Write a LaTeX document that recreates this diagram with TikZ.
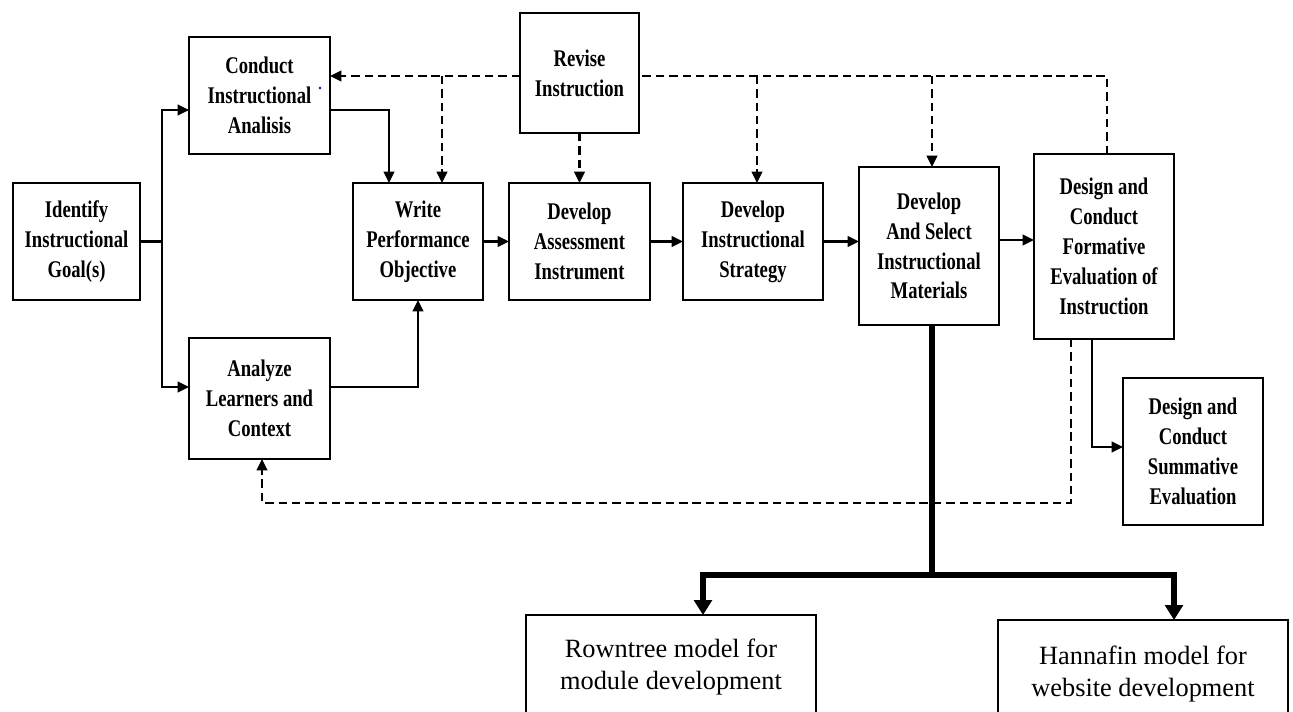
\documentclass[tikz,border=0pt]{standalone}
\usepackage{fontspec}
\setmainfont{Liberation Serif}
\newfontfamily\boxfont[FakeStretch=0.78]{Liberation Serif}
\usetikzlibrary{arrows.meta}
\tikzset{
 box/.style={draw, line width=1.6pt, fill=white, inner sep=0pt, outer sep=0pt, align=center,
   font=\boxfont\bfseries\fontsize{13.6}{17}\selectfont},
 modelbox/.style={draw, line width=1.1pt, fill=white, inner sep=0pt, outer sep=0pt, align=center,
   font=\fontsize{15}{18.1}\selectfont},
 flow/.style={line width=1.5pt, -{Triangle[length=6.5pt,width=6pt]}},
 plainline/.style={line width=1.5pt},
 fb/.style={line width=1.5pt, dash pattern=on 4.8pt off 2.8pt},
 fbarr/.style={fb, -{Triangle[length=6.5pt,width=6pt]}},
 heavy/.style={line width=3.4pt},
 heavyarr/.style={heavy, -{Triangle[length=8.5pt,width=10pt]}},
}
\begin{document}
\begin{tikzpicture}[x=0.02cm,y=-0.02cm]
\useasboundingbox (0,0) rectangle (1293,711);
\clip (0,0) rectangle (1293,711);
\fill[white] (0,0) rectangle (1293,711);

% boxes
\node[box, minimum width=2.54cm, minimum height=2.34cm] (Identify) at (76.5,241.5) {Identify\\Instructional\\Goal(s)};
\node[box, minimum width=2.82cm, minimum height=2.34cm] (Conduct) at (259.5,95.5) {Conduct\\Instructional\\Analisis};
\node[box, minimum width=2.82cm, minimum height=2.42cm] (Analyze) at (259.5,398.5) {Analyze\\Learners and\\Context};
\node[box, minimum width=2.6cm, minimum height=2.34cm] (Write) at (418,241.5) {Write\\Performance\\Objective};
\node[box, minimum width=2.38cm, minimum height=2.4cm] (Revise) at (579.5,73) {Revise\\Instruction};
\node[box, minimum width=2.82cm, minimum height=2.34cm] (Assessment) at (579.5,241.5) {Develop\\Assessment\\Instrument};
\node[box, minimum width=2.8cm, minimum height=2.34cm] (Strategy) at (753,241.5) {Develop\\Instructional\\Strategy};
\node[box, minimum width=2.8cm, minimum height=3.16cm] (Materials) at (929,246) {Develop\\And Select\\Instructional\\Materials};
\node[box, minimum width=2.8cm, minimum height=3.7cm] (Formative) at (1104,246.5) {Design and\\Conduct\\Formative\\Evaluation of\\Instruction};
\node[box, minimum width=2.8cm, minimum height=2.94cm] (Summative) at (1193,451.5) {Design and\\Conduct\\Summative\\Evaluation};
\node[modelbox, minimum width=5.8cm, minimum height=2.08cm] (Rowntree) at (671,667) {Rowntree model for\\module development};
\node[modelbox, minimum width=5.8cm, minimum height=2.16cm] (Hannafin) at (1143,674) {Hannafin model for\\website development};

\fill[blue!70!black] (320,88) circle (1.4);

% solid flow
\coordinate (split1) at (162,241.5);
\draw[plainline] (Identify.east) -- (split1);
\draw[flow] (split1) |- (Conduct.west |- 0,110);
\draw[flow] (split1) |- (Analyze.west |- 0,387);
\draw[flow] (Conduct.east |- 0,110) -| (Write.north -| 389,0);
\draw[flow] (Analyze.east |- 0,387) -| (Write.south);
\draw[flow] (Write.east) -- (Assessment.west);
\draw[flow] (Assessment.east) -- (Strategy.west);
\draw[flow] (Strategy.east) -- (Strategy.east -| Materials.west);
\draw[flow] (Materials.east |- 0,240) -- (Formative.west |- 0,240);
\draw[flow] (Formative.south -| 1092,0) |- (Summative.west |- 0,447);

% feedback (dashed)
\coordinate (topR) at (1107,76);
\coordinate (d1) at (442,76);
\coordinate (d2) at (757,76);
\coordinate (d3) at (932,76);
\coordinate (botR) at (1071,503);
\draw[fbarr] (Revise.west |- 0,76) -- (Conduct.east |- 0,76);
\draw[fb] (Formative.north -| topR) -- (topR) -- (Revise.east |- 0,76);
\draw[fbarr] (d1) -- (Write.north -| d1);
\draw[fbarr] (d2) -- (Strategy.north -| d2);
\draw[fbarr] (d3) -- (Materials.north -| d3);
\draw[fbarr] (Revise.south) -- (Assessment.north);
\draw[fbarr] (Formative.south -| botR) -- (botR) -| (Analyze.south -| 262,0);

% heavy split to models
\coordinate (split2) at (932,575);
\draw[heavy] (Materials.south -| split2) -- (split2);
\draw[heavyarr] (split2) -| (Rowntree.north -| 703,0);
\draw[heavyarr] (split2) -| (Hannafin.north -| 1174,0);
\end{tikzpicture}
\end{document}
